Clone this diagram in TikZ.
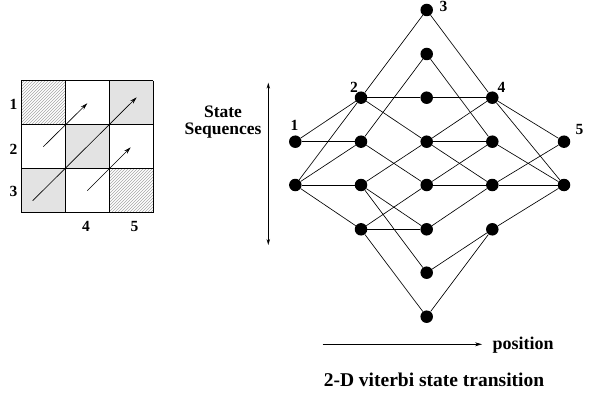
\documentclass[tikz,border=0pt]{standalone}
\usepackage{fontspec}
\setmainfont{Liberation Serif}
\usetikzlibrary{patterns,arrows.meta}
\begin{document}
\begin{tikzpicture}[x=1pt,y=-1pt,
  dot/.style={circle,fill=black,inner sep=0pt,minimum size=12.5pt},
  edge/.style={line width=0.65pt},
  gridline/.style={line width=0.9pt},
  hatch/.style={pattern=north east lines,pattern color=gray!70},
  shade/.style={fill=black!11},
  num/.style={font=\bfseries\fontsize{15.5}{15.5}\selectfont,inner sep=0pt},
  lbl/.style={font=\bfseries\fontsize{17.5}{16.5}\selectfont,inner sep=0pt,align=center},
  garrow/.style={line width=0.65pt,-{Stealth[length=7pt,width=4pt]}},
  axarrow/.style={line width=0.6pt}]
\useasboundingbox (0,0) rectangle (594,393);
% ---- grid ----
\fill[hatch] (21.3,80.7) rectangle (65.3,124.7);
\fill[shade] (109.3,80.7) rectangle (153.3,124.7);
\fill[shade] (65.3,124.7) rectangle (109.3,168.7);
\fill[shade] (21.3,168.7) rectangle (65.3,212.7);
\fill[hatch] (109.3,168.7) rectangle (153.3,212.7);
\foreach \gx in {21.3,65.3,109.3,153.3}
  \draw[gridline] (\gx,80.7) -- (\gx,212.7);
\foreach \gy in {80.7,124.7,168.7,212.7}
  \draw[gridline] (21.3,\gy) -- (153.3,\gy);
\coordinate (a1s) at (43.3,146.7); \coordinate (a1e) at (87.3,103.3);
\coordinate (a2s) at (32.7,200.7); \coordinate (a2e) at (136.7,97.3);
\coordinate (a3s) at (87.3,190.7); \coordinate (a3e) at (130.7,147.3);
\draw[garrow] (a1s) -- (a1e);
\draw[garrow] (a2s) -- (a2e);
\draw[garrow] (a3s) -- (a3e);
\node[num] (g1) at (13.5,104) {1};
\node[num] (g2) at (13.5,149) {2};
\node[num] (g3) at (13.5,191.5) {3};
\node[num] (g4) at (86,226) {4};
\node[num] (g5) at (134.5,226) {5};
% ---- trellis ----
\node[dot] (c1a) at (295.3,141.7) {};
\node[dot] (c1b) at (295.3,185) {};
\node[dot] (c2a) at (361,97.7) {};
\node[dot] (c2b) at (361,141.7) {};
\node[dot] (c2c) at (361,185) {};
\node[dot] (c2d) at (361,229.3) {};
\node[dot] (c3a) at (426.7,10) {};
\node[dot] (c3b) at (426.7,54) {};
\node[dot] (c3c) at (426.7,97.7) {};
\node[dot] (c3d) at (426.7,141.7) {};
\node[dot] (c3e) at (426.7,185) {};
\node[dot] (c3f) at (426.7,229.3) {};
\node[dot] (c3g) at (426.7,272.7) {};
\node[dot] (c3h) at (426.7,316.7) {};
\node[dot] (c4a) at (492.3,97.7) {};
\node[dot] (c4b) at (492.3,141.7) {};
\node[dot] (c4c) at (492.3,185) {};
\node[dot] (c4d) at (492.3,229.3) {};
\node[dot] (c5a) at (564,141.7) {};
\node[dot] (c5b) at (564,185) {};
\foreach \u/\v in {c1a/c2a,c1a/c2b,c1b/c2a,c1b/c2b,c1b/c2c,c1b/c2d,
  c2a/c3a,c2a/c3c,c2a/c3d,c2b/c3b,c2b/c3e,c2c/c3d,c2c/c3f,c2c/c3g,
  c2d/c3e,c2d/c3f,c2d/c3h,
  c3a/c4a,c3b/c4b,c3c/c4a,c3d/c4a,c3d/c4b,c3d/c4c,c3e/c4b,c3e/c4c,
  c3f/c4c,c3g/c4d,c3h/c4d,
  c4a/c5a,c4a/c5b,c4b/c5b,c4c/c5a,c4c/c5b,c4d/c5b}
  \draw[edge] (\u) -- (\v);
\node[num] (n1) at (294.5,125.5) {1};
\node[num] (n2) at (354,87) {2};
\node[num] (n3) at (443.5,6) {3};
\node[num] (n4) at (501.5,87) {4};
\node[num] (n5) at (579.5,130) {5};
\node[lbl] (ss) at (223,122) {State\\Sequences};
\coordinate (vt) at (268.3,82.7); \coordinate (vb) at (268.3,245);
\draw[axarrow,{Stealth[length=6pt,width=3.5pt,open]}-{Stealth[length=6pt,width=3.5pt,open]}] (vt) -- (vb);
\coordinate (ps) at (322.7,344.3); \coordinate (pe) at (482,344.3);
\draw[axarrow,-{Stealth[length=7pt,width=4pt]}] (ps) -- (pe);
\node[lbl,anchor=west,font=\bfseries\fontsize{18}{18}\selectfont] (pos) at (492.5,345) {position};
\node[lbl,font=\bfseries\fontsize{19.5}{19.5}\selectfont] (cap) at (434,380) {2-D viterbi state transition};
\end{tikzpicture}
\end{document}
